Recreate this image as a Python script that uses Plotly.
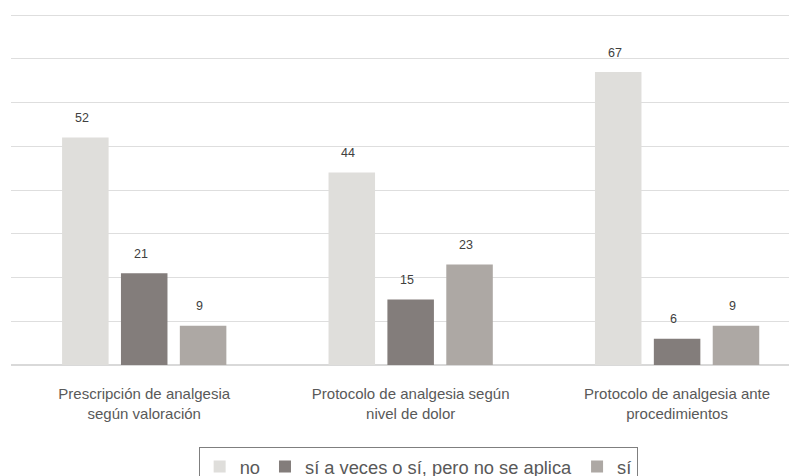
import plotly.graph_objects as go

categories = [
    "Prescripción de analgesia<br>según valoración",
    "Protocolo de analgesia según<br>nivel de dolor",
    "Protocolo de analgesia ante<br>procedimientos",
]
series_names = ["no", "sí a veces o sí, pero no se aplica", "sí"]
no_vals = [52, 44, 67]
aveces_vals = [21, 15, 6]
si_vals = [9, 23, 9]

series_values = [no_vals, aveces_vals, si_vals]
colors = ["#DFDEDB", "#837D7B", "#ADA8A4"]

FONT = "Liberation Sans, Arial, sans-serif"

fig = go.Figure()
for name, vals, col in zip(series_names, series_values, colors):
    fig.add_trace(go.Bar(
        x=categories, y=vals, name=name,
        marker=dict(color=col, line=dict(width=0)),
    ))

# data labels above bars
slot_px = 59
annotations = []
for i, vals in enumerate(series_values):
    for cat, v in zip(categories, vals):
        annotations.append(dict(
            x=cat, y=v, xref="x", yref="y", text=str(v), showarrow=False,
            xshift=(i - 1) * slot_px - 3.5, yshift=19.5, yanchor="middle",
            font=dict(family=FONT, size=12.5, color="#404040"),
        ))

fig.update_layout(
    width=789, height=468,
    margin=dict(l=3, r=0, t=4.8, b=111, autoexpand=False),
    paper_bgcolor="white", plot_bgcolor="white",
    barmode="group", bargap=0.337, bargroupgap=0.21,
    font=dict(family=FONT, color="#595959"),
    showlegend=True,
    legend=dict(
        orientation="h", x=0.518, xanchor="center", y=-0.233, yanchor="top",
        bordercolor="#7F7F7F", borderwidth=1,
        font=dict(family=FONT, size=18.3, color="#595959"),
        itemclick=False, itemdoubleclick=False,
    ),
    annotations=annotations,
    xaxis=dict(
        type="category", range=[-0.5, 2.45],
        showgrid=False, showline=False, zeroline=False, ticks="",
        tickfont=dict(family=FONT, size=15, color="#595959"),
        ticklabelstandoff=18,
    ),
    yaxis=dict(
        range=[0, 80.5], dtick=10, showticklabels=False,
        showgrid=True, gridcolor="#DEDEDE", gridwidth=1,
        zeroline=True, zerolinecolor="#D9D9D9", zerolinewidth=1.5,
        showline=False, ticks="",
    ),
)

fig.write_html("out.html")
